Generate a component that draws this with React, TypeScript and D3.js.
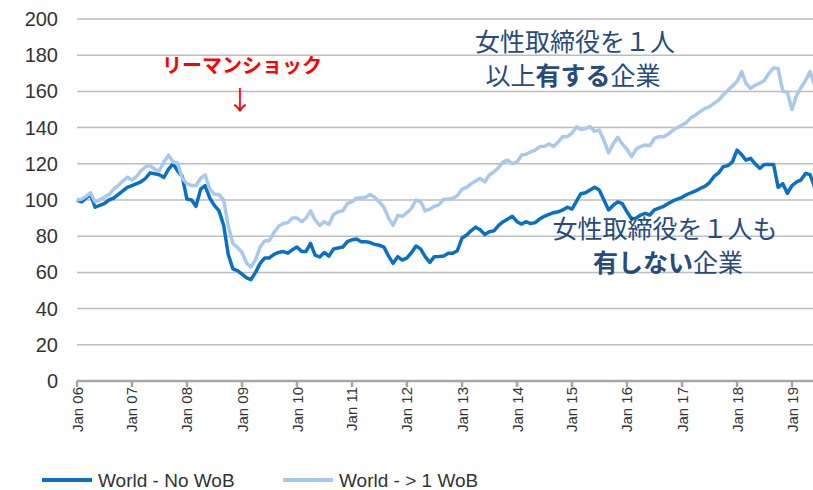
import React from 'react';
import * as d3 from 'd3';

// monthly index values, Jan 2006 - Jun 2019
const noWoB = [
  100, 99, 101, 103, 96, 97, 98, 100, 101, 103, 105, 107,
  108, 109, 110, 112, 115, 114.5, 114, 112.5, 117, 120, 116, 113,
  100.5, 100, 96.5, 106, 108, 101, 97, 94, 86, 70, 62, 61,
  59, 57, 56, 60, 65, 68, 68, 70, 71, 71.5, 70.6, 72.5,
  74, 71.5, 71.5, 76, 69.6, 68.5, 71, 69, 73, 73.5, 74, 77,
  78, 78.5, 77, 77, 76.5, 75.5, 75, 74, 69, 65, 68.7, 66.8,
  68, 71, 74.6, 73, 68.7, 65.5, 68.7, 68.8, 69, 70.6, 70.6, 72,
  79, 80.7, 83, 85, 83.5, 81, 82.5, 83, 86, 88, 89.5, 91,
  88, 86.7, 88, 87, 87.5, 89.5, 91, 92, 93, 93.5, 94.5, 96,
  95, 99.5, 103.5, 104, 105.5, 107, 105.5, 100, 94.5, 97, 99, 98,
  93.5, 89.5, 90, 91.7, 92.6, 91.7, 94.5, 95.5, 96.5, 98, 99.5, 100.5,
  101.5, 103, 104, 105, 106.4, 107.5, 109.5, 113, 115, 118.4, 119, 121,
  127.6, 125, 122, 123, 120, 117.5, 119.6, 119.6, 119.6, 107, 109, 103.7,
  108, 110, 111, 114.7, 114, 107,
];

const oneWoB = [
  100, 100.5, 102, 104, 99, 100, 101.5, 103, 106, 108, 110.5, 112.5,
  111, 113, 116, 118.4, 119, 117, 116, 121, 124.8, 121, 120.3, 112,
  109, 108, 108, 112, 113.8, 106, 103.2, 103, 100, 86, 76, 73.8,
  71, 65, 63, 67, 74, 77.5, 77.5, 82, 85.5, 87, 87.5, 90,
  90, 88, 90, 94, 89, 86, 88, 86.5, 92, 93.5, 94, 98,
  99, 101, 101.3, 101.5, 103, 101.5, 99, 96, 90, 86, 91.5, 91,
  93, 95.5, 100, 99, 94, 95, 96.5, 97.5, 100.4, 100.4, 101, 102.5,
  106, 107, 109, 110.5, 112, 110, 113.8, 115.6, 118, 121, 122, 120,
  121, 124.9, 125.2, 126.5, 127.6, 129.5, 129.5, 131, 129.5, 132, 135, 135,
  137, 140.5, 139, 139.5, 140.5, 138, 138.6, 133, 126, 131, 134.6, 131,
  128, 124, 128, 129.5, 130.4, 130, 134, 135, 135, 136.5, 138.5, 140,
  141.4, 143, 145.5, 147, 148.8, 150.6, 151.5, 153.4, 155.2, 158, 160.5, 163,
  165.4, 171, 164.5, 161.7, 163.5, 164.5, 166, 170, 173, 172.6, 160, 159.5,
  150, 158, 162, 166, 171, 163,
];

const yTicks = [0, 20, 40, 60, 80, 100, 120, 140, 160, 180, 200];
const seriesNames = ['World - No WoB', 'World - > 1 WoB'];
const colors = ['#0A70C4', '#A9C9EC'];

const start = new Date(2006, 0, 1);
const dates = noWoB.map((_, i) => d3.timeMonth.offset(start, i));

const App = () => {
  const width = 813;
  const height = 490;

  const x = d3.scaleTime()
    .domain([new Date(2006, 0, 1), new Date(2019, 0, 1)])
    .range([77, 792]);

  const y = d3.scaleLinear()
    .domain([0, 200])
    .range([381, 19]);

  const line = d3.line<number>()
    .x((_, i) => x(dates[i]))
    .y(d => y(d));

  const years = d3.timeYear.range(new Date(2006, 0, 1), new Date(2019, 1, 1));
  const fmt = d3.timeFormat('Jan %y');

  const jp = '"Noto Sans CJK JP", sans-serif';
  const navy = '#264B7D';

  return (
    <svg width={width} height={height}
      style={{ position: 'absolute', left: 0, top: 0, background: '#fff' }}
      fontFamily='"Liberation Sans", Arial, sans-serif'>
      {yTicks.filter(t => t > 0).map(t => (
        <line key={t} x1={77} x2={width} y1={y(t)} y2={y(t)}
          stroke="#BDBDBD" strokeWidth={1.5} />
      ))}
      {yTicks.map(t => (
        <text key={'l' + t} x={58} y={y(t) + 7} textAnchor="end"
          fontSize={20} fill="#333">{t}</text>
      ))}

      <line x1={77} x2={width} y1={y(0)} y2={y(0)} stroke="#A6A6A6" strokeWidth={2.5} />
      {years.map(d => (
        <g key={d.getFullYear()}>
          <line x1={x(d)} x2={x(d)} y1={y(0)} y2={y(0) + 6} stroke="#A6A6A6" strokeWidth={2.5} />
          <text transform={`translate(${x(d) + 5.5},${y(0) + 6}) rotate(-90)`}
            textAnchor="end" fontSize={15} fill="#333">{fmt(d)}</text>
        </g>
      ))}

      <path d={line(noWoB) || ''} fill="none" stroke={colors[0]} strokeWidth={3.5} strokeLinejoin="round" />
      <path d={line(oneWoB) || ''} fill="none" stroke={colors[1]} strokeWidth={3.5} strokeLinejoin="round" />

      <text x={242} y={73} textAnchor="middle" fontFamily={jp} fontWeight="bold"
        fontSize={20} fill="#FF0000">リーマンショック</text>
      <text x={240} y={110} textAnchor="middle" fontFamily={jp}
        fontSize={26} fill="#FF0000">↓</text>

      <text x={575} y={51} textAnchor="middle" fontFamily={jp} fontSize={25} fill={navy}>
        女性取締役を１人
      </text>
      <text x={573} y={85} textAnchor="middle" fontFamily={jp} fontSize={25} fill={navy}>
        以上<tspan fontWeight="bold">有する</tspan>企業
      </text>
      <text x={665} y={238} textAnchor="middle" fontFamily={jp} fontSize={25} fill={navy}>
        女性取締役を１人も
      </text>
      <text x={668} y={272} textAnchor="middle" fontFamily={jp} fontSize={25} fill={navy}>
        <tspan fontWeight="bold">有しない</tspan>企業
      </text>

      {seriesNames.map((name, i) => (
        <g key={name} transform={`translate(${[42, 283][i]},480)`}>
          <line x1={0} x2={50} y1={0} y2={0} stroke={colors[i]} strokeWidth={4} />
          <text x={56} y={6.5} fontSize={19} fill="#333">{name}</text>
        </g>
      ))}
    </svg>
  );
};

export default App;
